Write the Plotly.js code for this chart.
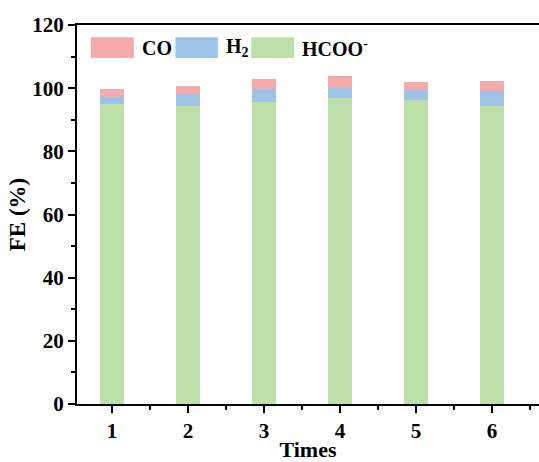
<!DOCTYPE html>
<html>
<head>
<meta charset="utf-8">
<script src="https://cdn.plot.ly/plotly-3.0.1.min.js"></script>
<style>html,body{margin:0;padding:0;background:#fff;overflow:hidden;}#chart{width:539px;height:462px;}</style>
</head>
<body>
<div id="chart"></div>
<script>
// Data
var times = [1, 2, 3, 4, 5, 6];
var hcoo = [95.1, 94.3, 95.6, 96.9, 96.3, 94.4];
var h2 = [2.1, 3.9, 4.0, 3.1, 3.1, 4.8];
var co = [2.6, 2.6, 3.3, 4.0, 2.4, 3.2];
var seriesNames = ['CO', 'H<sub>2</sub>', 'HCOO<sup>-</sup>'];
var seriesColors = ['#F5AAAC', '#9DC3E6', '#BDDFAA'];
var xTickVals = [1, 2, 3, 4, 5, 6];
var yTickVals = [0, 20, 40, 60, 80, 100, 120];

var fam = '"Liberation Serif", "Times New Roman", serif';
var bw = 0.31;

var traces = [
  {type: 'bar', x: times, y: hcoo, name: seriesNames[2], width: bw, marker: {color: seriesColors[2], line: {width: 0}}, showlegend: false},
  {type: 'bar', x: times, y: h2, name: seriesNames[1], width: bw, marker: {color: seriesColors[1], line: {width: 0}}, showlegend: false},
  {type: 'bar', x: times, y: co, name: seriesNames[0], width: bw, marker: {color: seriesColors[0], line: {width: 0}}, showlegend: false}
];

// custom legend (large swatches as in the reference)
var legX = [[0.030, 0.123, 0.136], [0.213, 0.305, 0.318], [0.377, 0.470, 0.483]];
var shapes = [], annotations = [];
for (var i = 0; i < 3; i++) {
  shapes.push({type: 'rect', xref: 'paper', yref: 'paper', x0: legX[i][0], x1: legX[i][1], y0: 0.913, y1: 0.968,
    fillcolor: seriesColors[i], line: {width: 0}});
  annotations.push({xref: 'paper', yref: 'paper', x: legX[i][2], y: 0.94, xanchor: 'left', yanchor: 'middle',
    text: '<b>' + seriesNames[i] + '</b>', showarrow: false, font: {family: fam, size: 20, color: '#000'}});
}

var layout = {
  width: 539, height: 462,
  margin: {l: 77, r: 0, t: 25, b: 58, pad: 0},
  paper_bgcolor: '#fff', plot_bgcolor: '#fff',
  barmode: 'stack',
  font: {family: fam, size: 21, color: '#000'},
  showlegend: false,
  xaxis: {
    automargin: false,
    range: [0.54, 6.62], tickvals: xTickVals, ticktext: xTickVals.map(function(v){return '<b>' + v + '</b>';}),
    ticks: 'outside', ticklen: 7, tickwidth: 2, tickcolor: '#000',
    minor: {dtick: 0.5, tick0: 0.5, ticks: 'outside', ticklen: 4, tickwidth: 2, tickcolor: '#000', showgrid: false},
    showline: true, linewidth: 2, linecolor: '#000', mirror: true,
    showgrid: false, zeroline: false,
    tickfont: {family: fam, size: 21, color: '#000'},
    title: {text: '<b>Times</b>', font: {family: fam, size: 22, color: '#000'}, standoff: 2}
  },
  yaxis: {
    automargin: false,
    range: [0, 120], tickvals: yTickVals, ticktext: yTickVals.map(function(v){return '<b>' + v + '</b>';}),
    ticks: 'outside', ticklen: 7, tickwidth: 2, tickcolor: '#000',
    minor: {dtick: 10, tick0: 10, ticks: 'outside', ticklen: 4, tickwidth: 2, tickcolor: '#000', showgrid: false},
    showline: true, linewidth: 2, linecolor: '#000', mirror: false,
    showgrid: false, zeroline: false,
    tickfont: {family: fam, size: 21, color: '#000'},
    title: {text: '<b>FE (%)</b>', font: {family: fam, size: 23, color: '#000'}, standoff: 0}
  },
  shapes: shapes,
  annotations: annotations
};

Plotly.newPlot('chart', traces, layout, {displayModeBar: false, staticPlot: true});
</script>
</body>
</html>
